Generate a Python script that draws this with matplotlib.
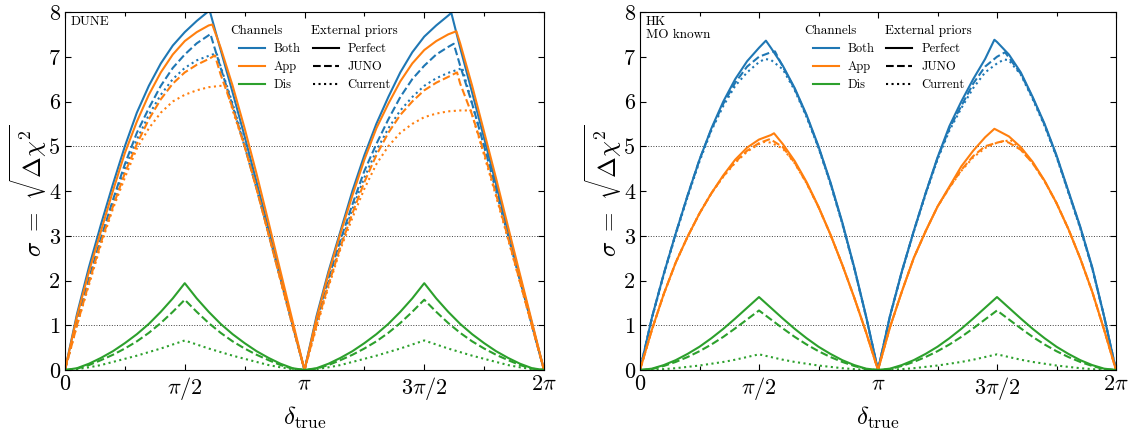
import numpy as np
import matplotlib.pyplot as plt
from matplotlib.lines import Line2D

plt.rcParams['font.family'] = 'cmr10'
plt.rcParams['mathtext.fontset'] = 'cm'
plt.rcParams['axes.unicode_minus'] = False

# delta_true sample points, in units of pi
delta = np.linspace(0, 2, 41)

# ---- DUNE ----
dune_both_perfect = [0, 1.25, 2.3, 3.25, 4.15, 5.0, 5.75, 6.35, 6.85, 7.25, 7.55, 7.8, 8.02, 7.15, 6.2, 5.22, 4.2, 3.15, 2.08, 1.03, 0,
                     1.2, 2.2, 3.1, 4.0, 4.8, 5.5, 6.1, 6.65, 7.1, 7.45, 7.7, 7.92, 7.2, 6.2, 5.18, 4.15, 3.1, 2.07, 1.03, 0]
dune_both_perfect_peaks = [(0.603, 8.05), (1.613, 7.98)]
dune_both_juno = [0, 1.1, 2.05, 2.95, 3.8, 4.6, 5.3, 5.85, 6.35, 6.75, 7.05, 7.3, 7.48, 6.75, 5.9, 5.0, 4.05, 3.05, 2.03, 1.0, 0,
                  1.1, 2.05, 2.9, 3.7, 4.45, 5.05, 5.6, 6.1, 6.5, 6.8, 7.05, 7.22, 6.8, 5.95, 5.0, 4.03, 3.02, 2.01, 1.0, 0]
dune_both_juno_peaks = [(0.607, 7.51), (1.623, 7.29)]
dune_both_current = [0, 1.05, 2.0, 2.9, 3.7, 4.5, 5.15, 5.7, 6.15, 6.5, 6.75, 6.92, 7.02, 6.78, 5.95, 5.05, 4.1, 3.06, 2.02, 1.0, 0,
                     1.05, 1.95, 2.8, 3.6, 4.3, 4.9, 5.4, 5.8, 6.1, 6.35, 6.52, 6.64, 6.73, 5.95, 5.0, 4.0, 3.0, 2.0, 1.0, 0]
dune_both_current_peaks = [(0.633, 7.08), (1.658, 6.76)]

dune_app_perfect = [0, 1.2, 2.2, 3.1, 4.0, 4.85, 5.55, 6.15, 6.65, 7.05, 7.35, 7.55, 7.7, 7.2, 6.35, 5.4, 4.38, 3.3, 2.2, 1.1, 0,
                    1.15, 2.15, 3.05, 3.9, 4.7, 5.4, 5.95, 6.45, 6.85, 7.15, 7.35, 7.5, 7.3, 6.35, 5.32, 4.28, 3.2, 2.13, 1.07, 0]
dune_app_perfect_peaks = [(0.615, 7.72), (1.634, 7.57)]
dune_app_juno = [0, 1.0, 1.95, 2.85, 3.65, 4.4, 5.05, 5.6, 6.05, 6.4, 6.65, 6.82, 6.95, 6.6, 5.85, 5.0, 4.05, 3.03, 2.01, 1.0, 0,
                 1.0, 1.9, 2.75, 3.5, 4.2, 4.8, 5.3, 5.7, 6.0, 6.25, 6.42, 6.55, 6.4, 5.7, 4.85, 3.92, 2.95, 1.97, 0.98, 0]
dune_app_juno_peaks = [(0.626, 7.03), (1.637, 6.65)]
dune_app_current = [0, 1.0, 1.9, 2.8, 3.6, 4.3, 4.95, 5.4, 5.75, 6.0, 6.15, 6.25, 6.32, 6.35, 5.8, 5.0, 4.05, 3.03, 2.0, 0.98, 0,
                    0.95, 1.85, 2.7, 3.4, 4.05, 4.6, 5.0, 5.3, 5.5, 5.65, 5.73, 5.78, 5.8, 5.7, 4.8, 3.88, 2.92, 1.95, 0.97, 0]
dune_app_current_peaks = [(0.672, 6.35), (1.695, 5.8)]

dune_dis_perfect = [0, 0.04, 0.14, 0.27, 0.42, 0.6, 0.8, 1.03, 1.3, 1.6, 1.94, 1.6, 1.3, 1.03, 0.8, 0.6, 0.42, 0.27, 0.14, 0.04, 0,
                    0.04, 0.14, 0.27, 0.42, 0.6, 0.8, 1.03, 1.3, 1.6, 1.94, 1.6, 1.3, 1.03, 0.8, 0.6, 0.42, 0.27, 0.14, 0.04, 0]
dune_dis_juno = [0, 0.03, 0.11, 0.22, 0.34, 0.48, 0.64, 0.83, 1.05, 1.3, 1.57, 1.3, 1.05, 0.83, 0.64, 0.48, 0.34, 0.22, 0.11, 0.03, 0,
                 0.03, 0.11, 0.22, 0.34, 0.48, 0.64, 0.83, 1.05, 1.3, 1.57, 1.3, 1.05, 0.83, 0.64, 0.48, 0.34, 0.22, 0.11, 0.03, 0]
dune_dis_current = [0, 0.02, 0.06, 0.11, 0.18, 0.25, 0.32, 0.4, 0.48, 0.57, 0.66, 0.57, 0.48, 0.4, 0.32, 0.25, 0.18, 0.11, 0.06, 0.02, 0,
                    0.02, 0.06, 0.11, 0.18, 0.25, 0.32, 0.4, 0.48, 0.57, 0.66, 0.57, 0.48, 0.4, 0.32, 0.25, 0.18, 0.11, 0.06, 0.02, 0]

# ---- HK, MO known ----
hk_both_perfect = [0, 1.17, 2.15, 3.05, 3.9, 4.7, 5.4, 6.0, 6.5, 6.9, 7.2, 7.2, 6.8, 6.3, 5.7, 5.0, 4.2, 3.3, 2.3, 1.2, 0,
                   1.2, 2.2, 3.1, 3.95, 4.75, 5.45, 6.0, 6.5, 6.95, 7.33, 7.05, 6.65, 6.1, 5.5, 4.8, 4.0, 3.2, 2.3, 1.2, 0]
hk_both_perfect_peaks = [(0.529, 7.36), (1.489, 7.38)]
hk_both_juno = [0, 1.17, 2.15, 3.05, 3.9, 4.7, 5.38, 5.95, 6.42, 6.78, 7.0, 7.1, 6.78, 6.28, 5.68, 4.98, 4.18, 3.28, 2.28, 1.19, 0,
                1.2, 2.2, 3.1, 3.95, 4.73, 5.4, 5.9, 6.4, 6.78, 7.0, 6.98, 6.62, 6.08, 5.48, 4.78, 3.98, 3.18, 2.28, 1.2, 0]
hk_both_juno_peaks = [(0.567, 7.12), (1.534, 7.10)]
hk_both_current = [0, 1.15, 2.13, 3.02, 3.87, 4.66, 5.35, 5.9, 6.35, 6.65, 6.88, 6.93, 6.72, 6.25, 5.65, 4.96, 4.16, 3.26, 2.27, 1.18, 0,
                   1.18, 2.18, 3.08, 3.92, 4.7, 5.35, 5.85, 6.3, 6.65, 6.85, 6.92, 6.6, 6.05, 5.45, 4.76, 3.96, 3.16, 2.27, 1.19, 0]
hk_both_current_peaks = [(0.525, 6.95), (1.53, 6.94)]

hk_app_perfect = [0, 0.9, 1.7, 2.4, 2.98, 3.5, 3.95, 4.35, 4.7, 4.97, 5.15, 5.25, 5.05, 4.67, 4.2, 3.65, 3.03, 2.35, 1.62, 0.84, 0,
                  0.95, 1.75, 2.5, 3.1, 3.65, 4.1, 4.55, 4.9, 5.2, 5.36, 5.22, 4.98, 4.65, 4.23, 3.73, 3.15, 2.49, 1.75, 0.9, 0]
hk_app_perfect_peaks = [(0.563, 5.29), (1.489, 5.39)]
hk_app_juno = [0, 0.9, 1.7, 2.4, 2.98, 3.5, 3.95, 4.33, 4.65, 4.9, 5.07, 5.15, 4.98, 4.63, 4.18, 3.64, 3.03, 2.35, 1.62, 0.84, 0,
               0.95, 1.75, 2.5, 3.1, 3.65, 4.08, 4.47, 4.78, 5.0, 5.08, 5.08, 4.92, 4.62, 4.22, 3.73, 3.15, 2.49, 1.75, 0.9, 0]
hk_app_juno_peaks = [(0.546, 5.16), (1.53, 5.12)]
hk_app_current = [0, 0.9, 1.7, 2.4, 2.98, 3.5, 3.95, 4.32, 4.63, 4.88, 5.05, 5.08, 4.95, 4.62, 4.17, 3.64, 3.03, 2.35, 1.62, 0.84, 0,
                  0.95, 1.75, 2.5, 3.1, 3.65, 4.07, 4.45, 4.75, 4.96, 5.08, 5.13, 4.93, 4.62, 4.22, 3.73, 3.15, 2.49, 1.75, 0.9, 0]
hk_app_current_peaks = [(0.525, 5.1), (1.555, 5.15)]

hk_dis_perfect = [0, 0.03, 0.11, 0.22, 0.36, 0.52, 0.71, 0.92, 1.15, 1.39, 1.63, 1.39, 1.15, 0.92, 0.71, 0.52, 0.36, 0.22, 0.11, 0.03, 0,
                  0.03, 0.11, 0.22, 0.36, 0.52, 0.71, 0.92, 1.15, 1.39, 1.63, 1.39, 1.15, 0.92, 0.71, 0.52, 0.36, 0.22, 0.11, 0.03, 0]
hk_dis_juno = [0, 0.02, 0.09, 0.18, 0.29, 0.42, 0.57, 0.74, 0.93, 1.13, 1.33, 1.13, 0.93, 0.74, 0.57, 0.42, 0.29, 0.18, 0.09, 0.02, 0,
               0.02, 0.09, 0.18, 0.29, 0.42, 0.57, 0.74, 0.93, 1.13, 1.33, 1.13, 0.93, 0.74, 0.57, 0.42, 0.29, 0.18, 0.09, 0.02, 0]
hk_dis_current = [0, 0.005, 0.02, 0.04, 0.07, 0.1, 0.14, 0.18, 0.23, 0.29, 0.35, 0.29, 0.23, 0.18, 0.14, 0.1, 0.07, 0.04, 0.02, 0.005, 0,
                  0.005, 0.02, 0.04, 0.07, 0.1, 0.14, 0.18, 0.23, 0.29, 0.35, 0.29, 0.23, 0.18, 0.14, 0.1, 0.07, 0.04, 0.02, 0.005, 0]

channels = ['Both', 'App', 'Dis']
priors = ['Perfect', 'JUNO', 'Current']
colors = {'Both': 'tab:blue', 'App': 'tab:orange', 'Dis': 'tab:green'}
styles = {'Perfect': '-', 'JUNO': '--', 'Current': ':'}

dune_curves = [
    ('Both', 'Perfect', dune_both_perfect, dune_both_perfect_peaks),
    ('Both', 'JUNO', dune_both_juno, dune_both_juno_peaks),
    ('Both', 'Current', dune_both_current, dune_both_current_peaks),
    ('App', 'Perfect', dune_app_perfect, dune_app_perfect_peaks),
    ('App', 'JUNO', dune_app_juno, dune_app_juno_peaks),
    ('App', 'Current', dune_app_current, dune_app_current_peaks),
    ('Dis', 'Perfect', dune_dis_perfect, []),
    ('Dis', 'JUNO', dune_dis_juno, []),
    ('Dis', 'Current', dune_dis_current, []),
]
hk_curves = [
    ('Both', 'Perfect', hk_both_perfect, hk_both_perfect_peaks),
    ('Both', 'JUNO', hk_both_juno, hk_both_juno_peaks),
    ('Both', 'Current', hk_both_current, hk_both_current_peaks),
    ('App', 'Perfect', hk_app_perfect, hk_app_perfect_peaks),
    ('App', 'JUNO', hk_app_juno, hk_app_juno_peaks),
    ('App', 'Current', hk_app_current, hk_app_current_peaks),
    ('Dis', 'Perfect', hk_dis_perfect, []),
    ('Dis', 'JUNO', hk_dis_juno, []),
    ('Dis', 'Current', hk_dis_current, []),
]


def curve(values, peaks):
    assert len(values) == len(delta)
    x = np.concatenate([delta, [p[0] for p in peaks]])
    y = np.concatenate([values, [p[1] for p in peaks]])
    order = np.argsort(x, kind='stable')
    return x[order] * np.pi, y[order]


fig = plt.figure(figsize=(11.35, 4.37), dpi=100)
W, H = 1135, 437
ax_dune = fig.add_axes([65 / W, 1 - 370 / H, 479 / W, 358 / H])
ax_hk = fig.add_axes([640 / W, 1 - 370 / H, 476 / W, 358 / H])

for ax, curves, tag in [(ax_dune, dune_curves, 'DUNE'), (ax_hk, hk_curves, 'HK\nMO known')]:
    for y in [1, 3, 5]:
        ax.axhline(y, color='0.25', ls=':', lw=0.7, zorder=1)
    for ch, pr, vals, peaks in curves:
        x, y = curve(vals, peaks)
        ax.plot(x, y, color=colors[ch], ls=styles[pr], lw=1.5, zorder=2)

    ax.set_xlim(0, 2 * np.pi)
    ax.set_ylim(0, 8)
    ax.set_xticks([0, np.pi / 2, np.pi, 3 * np.pi / 2, 2 * np.pi])
    ax.set_xticklabels([r'$0$', r'$\pi/2$', r'$\pi$', r'$3\pi/2$', r'$2\pi$'])
    ax.set_xticks(np.arange(1, 8, 2) * np.pi / 4, minor=True)
    ax.set_yticks(range(9))
    ax.set_yticklabels([str(i) for i in range(9)])
    ax.tick_params(which='both', direction='in', top=True, right=True, labelsize=16)
    ax.tick_params(which='major', length=4, width=0.8)
    ax.tick_params(which='minor', length=3, width=0.8)
    ax.set_xlabel(r'$\delta_{\rm true}$', fontsize=18, labelpad=2)
    ax.set_ylabel(r'$\sigma\ =\ \sqrt{\Delta\chi^2}$', fontsize=18, labelpad=0)
    ax.text(0.012, 0.988, tag, transform=ax.transAxes, ha='left', va='top',
            fontsize=9.5, linespacing=1.0)

    # legend titles as plain text, legends below them
    ax.text(0.345, 0.948, 'Channels', transform=ax.transAxes, ha='left',
            va='center', fontsize=9.5)
    ax.text(0.514, 0.948, 'External priors', transform=ax.transAxes,
            ha='left', va='center', fontsize=9.5)
    ch_handles = [Line2D([], [], color=colors[c], lw=1.5) for c in channels]
    leg1 = ax.legend(ch_handles, channels, loc='upper left',
                     bbox_to_anchor=(0.363, 0.913), frameon=False, fontsize=9,
                     handlelength=2.1, handletextpad=0.7,
                     labelspacing=0.47, borderpad=0, borderaxespad=0)
    ax.add_artist(leg1)
    pr_handles = [Line2D([], [], color='k', lw=1.5, ls=styles[p]) for p in priors]
    ax.legend(pr_handles, priors, loc='upper left',
              bbox_to_anchor=(0.517, 0.913), frameon=False, fontsize=9,
              handlelength=2.1, handletextpad=0.7,
              labelspacing=0.47, borderpad=0, borderaxespad=0)

fig.savefig('out.png', dpi=100)
